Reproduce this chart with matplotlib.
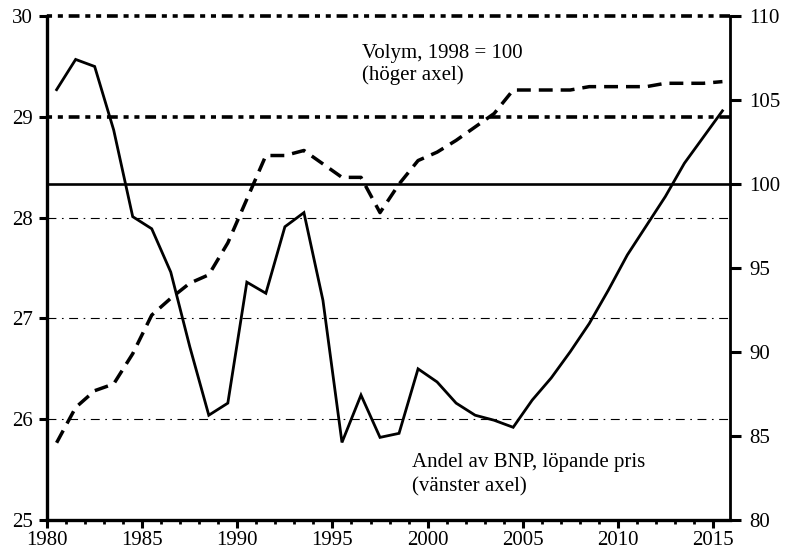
import numpy as np
import matplotlib
matplotlib.use('Agg')
import matplotlib.pyplot as plt
from matplotlib.ticker import MultipleLocator

plt.rcParams['font.family'] = ['Liberation Serif', 'DejaVu Serif']

# yearly values, plotted mid-year
years = np.arange(1980, 2016)
andel = [29.27, 29.57, 29.50, 28.87, 28.01, 27.89, 27.46, 26.72, 26.04, 26.16,
         27.36, 27.25, 27.91, 28.05, 27.18, 25.77, 26.24, 25.82, 25.86, 26.50,
         26.37, 26.16, 26.04, 25.99, 25.92, 26.19, 26.41, 26.67, 26.95, 27.28,
         27.63, 27.92, 28.21, 28.54, 28.80, 29.06]
volym = [84.6, 86.7, 87.7, 88.1, 89.9, 92.2, 93.2, 94.1, 94.6, 96.5,
         99.1, 101.7, 101.7, 102.0, 101.2, 100.4, 100.4, 98.3, 100.0, 101.4,
         101.9, 102.6, 103.4, 104.2, 105.6, 105.6, 105.6, 105.6, 105.8, 105.8,
         105.8, 105.8, 106.0, 106.0, 106.0, 106.1]

left_ticks = [25, 26, 27, 28, 29, 30]
right_ticks = [80, 85, 90, 95, 100, 105, 110]
x_ticks = [1980, 1985, 1990, 1995, 2000, 2005, 2010, 2015]

x = years + 0.5

fig = plt.figure(figsize=(7.85, 5.55), dpi=100, facecolor='w')
ax = fig.add_axes([0.060, 0.063, 0.870, 0.908])
ax2 = ax.twinx()

# grid on the left axis
for v in [26, 27, 28]:
    ax.axhline(v, color='k', lw=0.8, ls=(0, (8, 5, 1.5, 5)), zorder=1)
for v in [29, 30]:
    ax.axhline(v, color='k', lw=2.6, ls=(0, (1.4, 1.6, 1.4, 1.6, 3, 1.6)),
               zorder=1, clip_on=False)

ax.plot(x, andel, color='k', lw=2.0, solid_joinstyle='miter', zorder=3)

ax2.axhline(100, color='k', lw=1.9, zorder=2)
ax2.plot(x, volym, color='k', lw=2.5, ls=(0, (4, 2.3)), zorder=3)

ax.set_xlim(1980, 2015.9)
ax.set_ylim(25, 30)
ax2.set_ylim(80, 110)

ax.set_xticks(x_ticks)
ax.xaxis.set_minor_locator(MultipleLocator(1))
ax.set_yticks(left_ticks)
ax2.set_yticks(right_ticks)

for a in (ax, ax2):
    a.spines['top'].set_visible(False)
ax.spines['left'].set_linewidth(2.4)
ax.spines['bottom'].set_linewidth(2.4)
ax.spines['right'].set_visible(False)
ax2.spines['left'].set_visible(False)
ax2.spines['bottom'].set_visible(False)
ax2.spines['right'].set_linewidth(2.0)

ax.tick_params(axis='y', direction='out', length=6, width=2.2, labelsize=15, pad=4)
ax.tick_params(axis='x', which='major', direction='out', length=6, width=2.2,
               labelsize=15, pad=2)
ax.tick_params(axis='x', which='minor', direction='out', length=3, width=2.0)
ax2.tick_params(axis='y', direction='out', length=8, width=2.2, labelsize=15, pad=6)

ax.text(1996.55, 29.63, 'Volym, 1998 = 100', fontsize=15, ha='left', va='center')
ax.text(1996.55, 29.415, '(höger axel)', fontsize=15, ha='left', va='center')
ax.text(1999.18, 25.575, 'Andel av BNP, löpande pris', fontsize=15,
        ha='left', va='center')
ax.text(1999.18, 25.33, '(vänster axel)', fontsize=15, ha='left', va='center')

fig.savefig('out.png', dpi=100)
